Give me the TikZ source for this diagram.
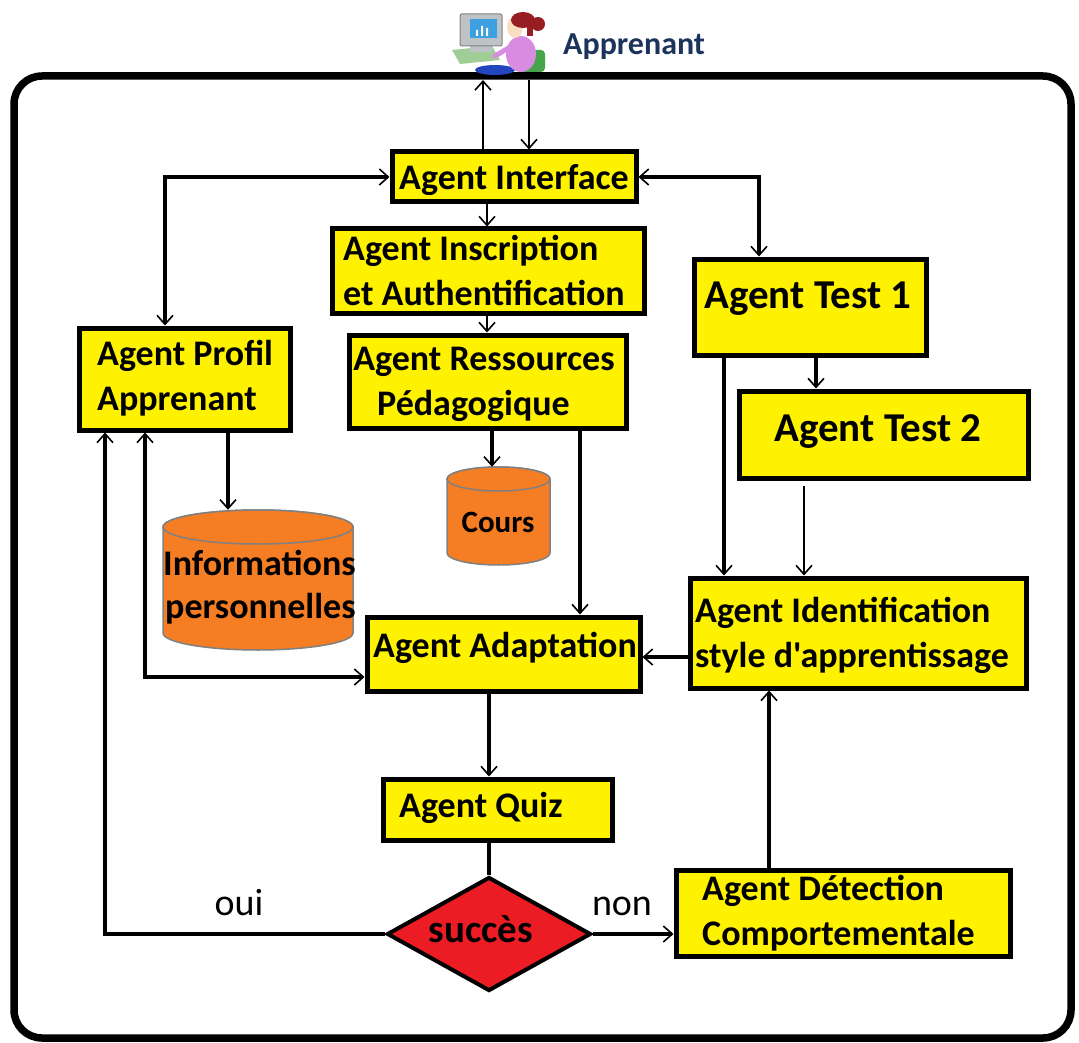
\documentclass[tikz,border=0pt]{standalone}
\usepackage{fontspec}
\setmainfont{Carlito}[Ligatures=TeXOff]
\usetikzlibrary{arrows.meta,shapes.geometric}
\definecolor{boxyellow}{RGB}{255,242,0}
\definecolor{cylorange}{RGB}{245,125,35}
\definecolor{decred}{RGB}{236,28,36}
\definecolor{appblue}{RGB}{28,52,92}
\definecolor{monigray}{RGB}{190,195,200}
\definecolor{screenblue}{RGB}{60,160,225}
\definecolor{deskgreen}{RGB}{160,205,150}
\definecolor{shirtpink}{RGB}{215,140,225}
\definecolor{chairgreen}{RGB}{70,165,75}
\definecolor{hairred}{RGB}{150,30,35}
\definecolor{skintone}{RGB}{250,222,195}
\definecolor{jeans}{RGB}{35,70,190}
\tikzset{
  >={Straight Barb[length=9pt,width=16pt,line width=1.6pt]},
  agentbox/.style={draw=black,line width=5pt,fill=boxyellow,inner sep=0pt},
  boxtext/.style={inner sep=0pt,font=\bfseries\fontsize{36}{43}\selectfont},
  bigtext/.style={inner sep=0pt,font=\bfseries\fontsize{41}{48}\selectfont},
  plaintext/.style={inner sep=0pt,font=\fontsize{38}{44}\selectfont},
  conn/.style={line width=3.5pt},
  thinconn/.style={line width=2pt},
  cylfill/.style={fill=cylorange,draw=gray,line width=1.5pt},
}
\newcommand\mycyl[5]{%
  \path[cylfill] (#1-#4,#2) -- (#1-#4,#3) arc[start angle=180,end angle=0,x radius=#4,y radius=#5] -- (#1+#4,#2) arc[start angle=0,end angle=-180,x radius=#4,y radius=#5] -- cycle;
  \path[cylfill] (#1,#2) ellipse[x radius=#4,y radius=#5];
}
\begin{document}
\begin{tikzpicture}[x=1pt,y=-1pt]
\useasboundingbox (0,0) rectangle (1079,1043);
% outer frame
\draw[line width=7.5pt,rounded corners=28pt] (14,76) rectangle (1071,1038);

% learner icon
\fill[deskgreen] (452,50) -- (492,46) -- (500,60) -- (460,64) -- cycle;
\fill[monigray] (470,44) rectangle (492,52);
\filldraw[fill=monigray,draw=gray,line width=1pt,rounded corners=2pt] (460,14) rectangle (502,46);
\fill[screenblue] (470,19) rectangle (497,38);
\fill[white] (476,30) rectangle (478,36) (481,26) rectangle (483,36) (486,28) rectangle (488,36);
\fill[chairgreen,rounded corners=4pt] (517,50) rectangle (545,72);
\fill[jeans] (495,70) ellipse[x radius=20,y radius=5];
\fill[shirtpink] (521,54) ellipse[x radius=15,y radius=18];
\draw[shirtpink,line width=5pt,line cap=round] (512,46) -- (495,56);
\fill[skintone] (515,27) ellipse[x radius=8,y radius=11];
\fill[hairred] (523,20) ellipse[x radius=12,y radius=8];
\fill[hairred] (538,24) circle[radius=7];
\fill[hairred] (527,24) rectangle (533,36);
\node[anchor=base west,inner sep=0pt,text=appblue,font=\bfseries\fontsize{32}{36}\selectfont] (app) at (563,55) {Apprenant};

% boxes
\node[agentbox,minimum width=244pt,minimum height=50pt] (inter) at (514,177) {};
\node[agentbox,minimum width=312pt,minimum height=84pt] (insc) at (488,271) {};
\node[agentbox,minimum width=277pt,minimum height=93pt] (ress) at (487.5,381.5) {};
\node[agentbox,minimum width=211pt,minimum height=102pt] (profil) at (184.5,379) {};
\node[agentbox,minimum width=232pt,minimum height=96pt] (test1) at (810,307) {};
\node[agentbox,minimum width=289pt,minimum height=87pt] (test2) at (883.5,434.5) {};
\node[agentbox,minimum width=336pt,minimum height=110pt] (ident) at (858,633) {};
\node[agentbox,minimum width=273pt,minimum height=74pt] (adapt) at (503.5,654) {};
\node[agentbox,minimum width=229pt,minimum height=61pt] (quiz) at (497.5,809.5) {};
\node[agentbox,minimum width=334pt,minimum height=86pt] (detect) at (843,913) {};
\node[diamond,draw=black,fill=decred,line width=4pt,inner sep=0pt,aspect=1.8,minimum width=204pt,minimum height=114pt] (succ) at (489,934) {};

% cylinders
\mycyl{498.5}{479}{553}{51.5}{12}
\node[inner sep=0pt,minimum width=103pt,minimum height=98pt] (cours) at (498.5,516) {};
\mycyl{258}{527}{633}{95}{17}
\node[inner sep=0pt,minimum width=190pt,minimum height=140pt] (info) at (258,580) {};

% texts
\node[boxtext,anchor=base] (t-inter) at (514,190) {Agent Interface};
\node[boxtext,anchor=base west] (t-insc1) at (343,260) {Agent Inscription};
\node[boxtext,anchor=base west] (t-insc2) at (343,305) {et Authentification};
\node[boxtext,anchor=base] (t-ress1) at (484,370) {Agent Ressources};
\node[boxtext,anchor=base west] (t-ress2) at (377,415) {Pédagogique};
\node[boxtext,anchor=base west] (t-prof1) at (97,365) {Agent Profil};
\node[boxtext,anchor=base west] (t-prof2) at (97,410) {Apprenant};
\node[bigtext,anchor=base] (t-test1) at (808,308) {Agent Test 1};
\node[bigtext,anchor=base] (t-test2) at (878,441) {Agent Test 2};
\node[boxtext,anchor=base west] (t-ident1) at (695,622) {Agent Identification};
\node[boxtext,anchor=base west] (t-ident2) at (695,667) {style d'apprentissage};
\node[boxtext,anchor=base] (t-adapt) at (505,657) {Agent Adaptation};
\node[boxtext,anchor=base west] (t-quiz) at (399,817) {Agent Quiz};
\node[boxtext,anchor=base west] (t-det1) at (702,900) {Agent Détection};
\node[boxtext,anchor=base west] (t-det2) at (702,945) {Comportementale};
\node[inner sep=0pt,anchor=base,font=\bfseries\fontsize{39}{44}\selectfont] (t-succ) at (481,942) {succès};
\node[inner sep=0pt,anchor=base,font=\bfseries\fontsize{31}{36}\selectfont] (t-cours) at (498,532) {Cours};
\node[boxtext,anchor=base west] (t-info1) at (163,575) {Informations};
\node[boxtext,anchor=base west] (t-info2) at (165,618) {personnelles};
\node[plaintext,anchor=base] (t-oui) at (239,915) {oui};
\node[plaintext,anchor=base] (t-non) at (622,915) {non};

% helper coordinates
\coordinate (up1) at (483,80);
\coordinate (dn1) at (529,80);
\coordinate (x487) at (487,0);
\coordinate (x165) at (165,0);
\coordinate (x759) at (759,0);
\coordinate (x816) at (816,0);
\coordinate (x724) at (724,0);
\coordinate (x804) at (804,0);
\coordinate (x492) at (492,0);
\coordinate (x580) at (580,0);
\coordinate (x228) at (228,0);
\coordinate (x145) at (145,0);
\coordinate (x105) at (105,0);
\coordinate (x489) at (489,0);
\coordinate (x769) at (769,0);
\coordinate (y677) at (0,677);
\coordinate (y657) at (0,657);

% connectors
\draw[thinconn,->] (inter.north -| up1) -- (up1);
\draw[thinconn,->] (dn1) -- (inter.north -| dn1);
\draw[thinconn,->] (inter.south -| x487) -- (insc.north -| x487);
\draw[thinconn,->] (insc.south -| x487) -- (ress.north -| x487);
\draw[conn,<->] (inter.west) -| (profil.north -| x165);
\draw[conn,<->] (inter.east) -| (test1.north -| x759);
\draw[conn,->] (test1.south -| x816) -- (test2.north -| x816);
\draw[conn,->] (test1.south -| x724) -- (ident.north -| x724);
\draw[thinconn,->] ([yshift=-5pt]test2.south -| x804) -- (ident.north -| x804);
\draw[conn,->] (ress.south -| x492) -- (cours.north -| x492);
\draw[conn,->] (ress.south -| x580) -- (adapt.north -| x580);
\draw[conn,->] (profil.south -| x228) -- (info.north -| x228);
\draw[conn,<->] (profil.south -| x145) |- (adapt.west |- y677);
\draw[conn,->] (ident.west |- y657) -- (adapt.east |- y657);
\draw[conn,->] (adapt.south -| x489) -- (quiz.north -| x489);
\draw[conn] (quiz.south -| x489) -- (succ.north);
\draw[conn,->] (succ.east) -- (detect.west |- succ.east);
\draw[conn,->] (succ.west) -| (profil.south -| x105);
\draw[conn,->] (detect.north -| x769) -- (ident.south -| x769);
\end{tikzpicture}
\end{document}
